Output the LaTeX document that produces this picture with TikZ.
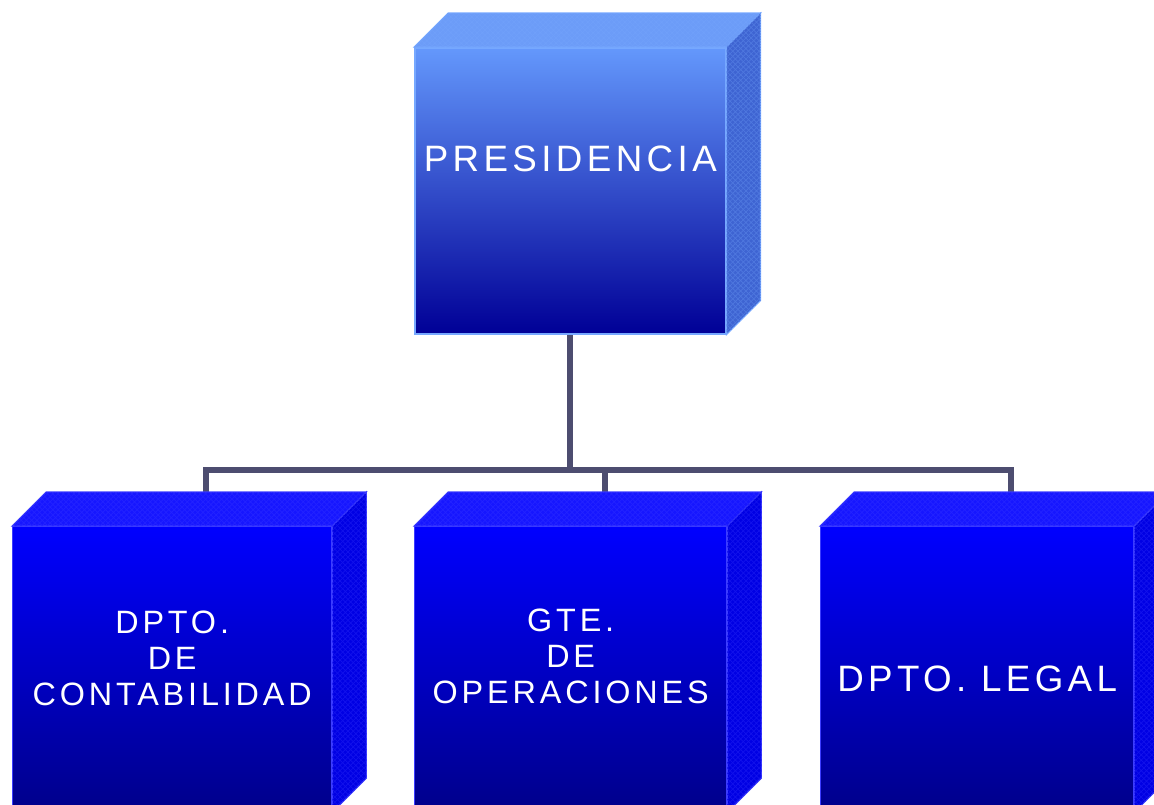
\documentclass[tikz,border=0pt]{standalone}
\usepackage{fontspec}
\newfontfamily\boxfont[LetterSpace=12]{Liberation Sans}
\usetikzlibrary{calc,positioning,backgrounds,patterns}

\definecolor{presTop}{RGB}{100,152,252}
\definecolor{presMid}{RGB}{78,120,228}
\definecolor{presBot}{RGB}{0,0,150}
\definecolor{presFace}{RGB}{108,156,248}
\definecolor{presSide}{RGB}{62,100,210}
\definecolor{presEdge}{RGB}{118,168,255}
\definecolor{deptTop}{RGB}{0,0,255}
\definecolor{deptMid}{RGB}{0,0,222}
\definecolor{deptBot}{RGB}{0,0,138}
\definecolor{deptFace}{RGB}{22,22,255}
\definecolor{deptSide}{RGB}{0,0,228}
\definecolor{deptEdge}{RGB}{60,60,255}
\definecolor{linkgray}{RGB}{77,77,112}

\tikzset{
  presbox/.style={anchor=north west, inner sep=0pt, minimum width=6.22cm, minimum height=5.72cm,
    draw=presEdge, line width=0.9pt, top color=presTop, middle color=presMid, bottom color=presBot},
  deptbox/.style={anchor=north west, inner sep=0pt, minimum width=#1, minimum height=5.7cm,
    draw=deptEdge, line width=0.8pt, top color=deptTop, middle color=deptMid, bottom color=deptBot},
  bigtext/.style={text=white, inner sep=0pt, font=\boxfont\fontsize{20.9}{24}\selectfont},
  smalltext/.style={text=white, inner sep=0pt, align=center, font=\boxfont\fontsize{18.4}{20.5}\selectfont},
  link/.style={draw=linkgray, line width=0.12cm}
}

% top and right faces of a box: node, top colour, side colour, edge colour
\newcommand{\boxfaces}[4]{%
  \filldraw[fill=#2, draw=#4, line width=0.6pt,
    postaction={pattern=crosshatch, pattern color=#4!35!#2}]
    (#1.north west) -- ++(34,-34) -- ($(#1.north east)+(34,-34)$) -- (#1.north east) -- cycle;
  \filldraw[fill=#3, draw=#4, line width=0.6pt,
    postaction={pattern=crosshatch, pattern color=#4!30!#3}]
    (#1.north east) -- ++(34,-34) -- ($(#1.south east)+(34,-34)$) -- (#1.south east) -- cycle;
}

\begin{document}
\begin{tikzpicture}[x=0.02cm, y=-0.02cm]
  \path[use as bounding box] (0,0) rectangle (1154,805);
  \clip (0,0) rectangle (1154,805);

  % boxes
  \node[presbox] (pres) at (414,47) {};
  \node[deptbox=6.38cm] (contab) at (12,526) {};
  \node[deptbox=6.24cm] (oper) at (414,526) {};
  \node[deptbox=6.26cm] (legal) at (820,526) {};

  \boxfaces{pres}{presFace}{presSide}{presEdge}
  \boxfaces{contab}{deptFace}{deptSide}{deptEdge}
  \boxfaces{oper}{deptFace}{deptSide}{deptEdge}
  \boxfaces{legal}{deptFace}{deptSide}{deptEdge}

  % texts
  \node[bigtext] (pres-t) at ([yshift=0.64cm]pres.center) {PRESIDENCIA};
  \node[smalltext] (contab-t) at ([yshift=0.22cm]contab.center) {DPTO.\\DE\\CONTABILIDAD};
  \node[smalltext] (oper-t) at ([yshift=0.26cm]oper.center) {GTE.\\DE\\OPERACIONES};
  \node[bigtext] (legal-t) at ([yshift=-0.2cm]legal.center) {DPTO. LEGAL};

  % connectors
  \coordinate (bus) at ($(pres.south)+(0,135)$);
  \coordinate (contab-in) at ($(contab.north)+(34,-34)$);
  \coordinate (oper-in) at ($(oper.north)+(34,-34)$);
  \coordinate (legal-in) at ($(legal.north)+(34,-34)$);
  \begin{scope}[on background layer]
    \draw[link] (pres.south) -- (bus);
    \draw[link] (bus) -| (contab-in);
    \draw[link] (bus) -| (oper-in);
    \draw[link] (bus) -| (legal-in);
  \end{scope}
\end{tikzpicture}
\end{document}
